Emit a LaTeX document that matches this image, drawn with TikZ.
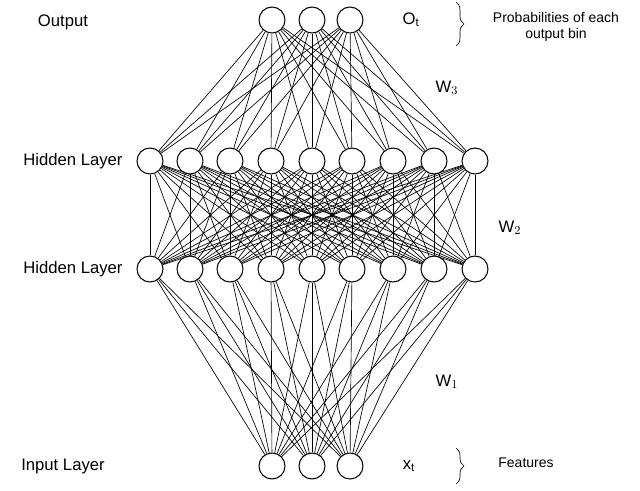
\documentclass[tikz,border=0pt]{standalone}
\usepackage{fontspec}
\setmainfont{Liberation Sans}
\usetikzlibrary{decorations.pathreplacing}
\begin{document}
\begin{tikzpicture}[x=0.75pt,y=-0.75pt,
  neuron/.style={circle,draw,line width=0.8pt,minimum size=19.5pt,inner sep=0pt},
  conn/.style={line width=0.5pt},
  lbl/.style={font=\fontsize{12.5}{14}\selectfont},
  small/.style={font=\fontsize{10.5}{12}\selectfont,align=center}]
\useasboundingbox (0,0) rectangle (640,490);
% output layer
\foreach \i/\x in {1/272,2/312,3/350} \node[neuron] (o\i) at (\x,20) {};
% hidden layers
\foreach \i/\x in {1/150,2/190,3/230,4/271,5/312,6/352,7/393,8/434,9/475} {
  \node[neuron] (a\i) at (\x,161) {};
  \node[neuron] (b\i) at (\x,269) {};
}
% input layer
\foreach \i/\x in {1/272,2/312,3/350} \node[neuron] (x\i) at (\x,466) {};
% connections
\foreach \i in {1,...,3} \foreach \j in {1,...,9} {
  \draw[conn] (o\i) -- (a\j);
  \draw[conn] (x\i) -- (b\j);
}
\foreach \i in {1,...,9} \foreach \j in {1,...,9} \draw[conn] (a\i) -- (b\j);
% labels
\node[lbl] (lo) at (63,22) {Output};
\node[lbl] (lh1) at (73,161) {Hidden Layer};
\node[lbl] (lh2) at (73,269) {Hidden Layer};
\node[lbl] (li) at (63,466) {Input Layer};
\node[lbl] (ot) at (411,20) {O$_{\mathrm{t}}$};
\node[lbl] (w3) at (447,88) {W$_3$};
\node[lbl] (w2) at (510,228) {W$_2$};
\node[lbl] (w1) at (447,382) {W$_1$};
\node[lbl] (xt) at (409,466) {x$_{\mathrm{t}}$};
% braces
\draw[conn,decorate,decoration={brace,amplitude=6pt}] (456,2) -- (456,46);
\draw[conn,decorate,decoration={brace,amplitude=6pt}] (456,448) -- (456,484);
\node[small] (pr) at (556,27) {Probabilities of each\\output bin};
\node[small] (ft) at (526,463) {Features};
\end{tikzpicture}
\end{document}
